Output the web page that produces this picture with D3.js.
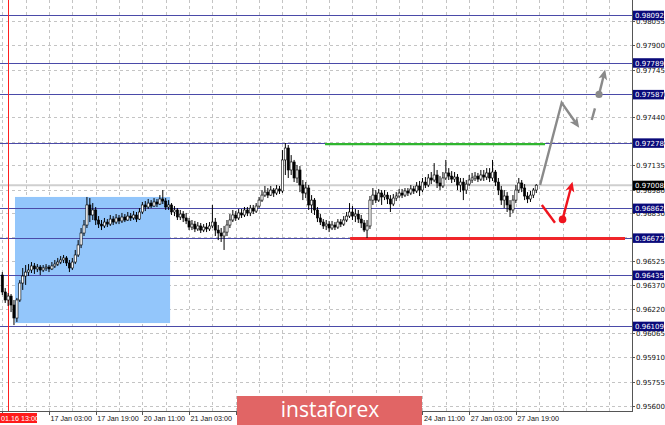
<!DOCTYPE html>
<html><head><meta charset="utf-8">
<script src="https://cdn.jsdelivr.net/npm/d3@7"></script>
<style>html,body{margin:0;padding:0;background:#fff;overflow:hidden}</style>
</head><body>
<svg id="c" width="665" height="425"></svg>
<script>
// ---- DATA (USDCHF H1, bar 0 = 16 Jan 11:00) ----
const opens = [
.96435,.96327,.96276,.96301,.96244,.96161,.96276,.96384,.96429,.96454,
.96467,.96493,.96474,.96486,.96467,.96480,.96486,.96474,.96493,.96505,
.96518,.96531,.96544,.96512,.96480,.96518,.96563,.96627,.96703,.96754,
.96882,.96818,.96850,.96786,.96760,.96748,.96773,.96760,.96792,.96773,
.96799,.96780,.96805,.96786,.96811,.96799,.96818,.96792,.96837,.96882,
.96869,.96894,.96875,.96901,.96888,.96920,.96907,.96869,.96882,.96837,
.96850,.96805,.96824,.96799,.96780,.96741,.96760,.96729,.96748,.96722,
.96741,.96729,.96748,.96773,.96722,.96703,.96684,.96709,.96754,.96786,
.96818,.96799,.96831,.96818,.96850,.96831,.96862,.96843,.96875,.96913,
.96945,.96964,.96945,.96977,.96958,.96984,.96971,.97169,.97245,.97105,
.97156,.97054,.97105,.97009,.96958,.96990,.96882,.96913,.96850,.96799,
.96773,.96748,.96760,.96735,.96754,.96741,.96773,.96760,.96786,.96811,
.96837,.96811,.96824,.96792,.96767,.96722,.96748,.96913,.96945,.96913,
.96958,.96933,.96945,.96920,.96888,.96926,.96939,.96958,.96945,.96971,
.96958,.96984,.96971,.97003,.96977,.97028,.97009,.97054,.97041,.97073,
.97022,.97003,.97054,.97086,.97066,.97047,.97060,.97009,.97028,.96977,
.97015,.97041,.97054,.97066,.97047,.97073,.97060,.97086,.97054,.97092,
.97028,.96977,.96913,.96939,.96882,.96850,.96913,.96977,.97022,.96990,
.96939,.96920,.96945,.96977];
const highs = [
.96454,.96352,.96320,.96314,.96276,.96289,.96403,.96480,.96499,.96505,
.96518,.96512,.96505,.96499,.96499,.96505,.96499,.96518,.96531,.96544,
.96556,.96563,.96556,.96531,.96544,.96595,.96658,.96735,.96786,.96933,
.96926,.96894,.96869,.96811,.96786,.96799,.96792,.96818,.96811,.96824,
.96818,.96831,.96824,.96837,.96831,.96843,.96837,.96862,.96901,.96907,
.96920,.96913,.96926,.96920,.96945,.96977,.96926,.96913,.96894,.96875,
.96862,.96850,.96843,.96831,.96799,.96786,.96780,.96773,.96767,.96760,
.96767,.96773,.96882,.96799,.96754,.96735,.96748,.96786,.96824,.96850,
.96843,.96856,.96856,.96869,.96869,.96882,.96882,.96894,.96933,.96977,
.97003,.96990,.97003,.96990,.97009,.97003,.97232,.97277,.97264,.97200,
.97169,.97137,.97130,.97041,.97028,.97009,.96945,.96926,.96869,.96824,
.96792,.96786,.96780,.96780,.96773,.96792,.96792,.96811,.96837,.96894,
.96875,.96856,.96850,.96818,.96786,.96786,.96939,.96990,.96977,.96984,
.96977,.96977,.96964,.96945,.96952,.96964,.96984,.96984,.96990,.96990,
.97009,.97003,.97028,.97035,.97054,.97060,.97079,.97092,.97149,.97105,
.97066,.97092,.97169,.97117,.97098,.97092,.97079,.97054,.97054,.97041,
.97073,.97086,.97092,.97086,.97105,.97105,.97117,.97117,.97169,.97105,
.97054,.97003,.96977,.96964,.96913,.96945,.97009,.97054,.97041,.97015,
.96964,.96971,.96990,.97015];
const lows = [
.96308,.96257,.96238,.96199,.96116,.96136,.96263,.96340,.96372,.96429,
.96448,.96442,.96454,.96435,.96454,.96461,.96454,.96467,.96480,.96493,
.96505,.96512,.96493,.96454,.96467,.96505,.96550,.96607,.96684,.96735,
.96773,.96786,.96754,.96735,.96722,.96735,.96741,.96748,.96754,.96760,
.96760,.96767,.96773,.96780,.96780,.96786,.96773,.96786,.96824,.96843,
.96856,.96862,.96869,.96869,.96882,.96888,.96850,.96850,.96818,.96811,
.96786,.96786,.96773,.96760,.96722,.96722,.96709,.96716,.96703,.96709,
.96709,.96716,.96735,.96684,.96658,.96646,.96595,.96684,.96735,.96773,
.96780,.96786,.96799,.96805,.96811,.96811,.96824,.96831,.96862,.96901,
.96933,.96926,.96939,.96933,.96945,.96952,.96958,.97073,.97054,.97073,
.97028,.97022,.96964,.96913,.96926,.96850,.96831,.96818,.96773,.96754,
.96729,.96722,.96709,.96722,.96722,.96729,.96741,.96748,.96773,.96799,
.96786,.96773,.96767,.96735,.96709,.96671,.96729,.96882,.96894,.96901,
.96882,.96913,.96888,.96837,.96875,.96907,.96926,.96926,.96933,.96939,
.96945,.96952,.96958,.96939,.96964,.96990,.96996,.97015,.97028,.96990,
.96977,.96990,.97041,.97041,.97022,.97028,.96977,.96964,.96913,.96952,
.97003,.97022,.97035,.97028,.97035,.97035,.97041,.97028,.97035,.97003,
.96945,.96882,.96862,.96837,.96805,.96831,.96894,.96958,.96964,.96913,
.96894,.96901,.96926,.96958];
const closes = [
.96327,.96276,.96301,.96244,.96161,.96276,.96384,.96429,.96454,.96467,
.96493,.96474,.96486,.96467,.96480,.96486,.96474,.96493,.96505,.96518,
.96531,.96544,.96512,.96480,.96518,.96563,.96627,.96703,.96754,.96882,
.96818,.96850,.96786,.96760,.96748,.96773,.96760,.96792,.96773,.96799,
.96780,.96805,.96786,.96811,.96799,.96818,.96792,.96837,.96882,.96869,
.96894,.96875,.96901,.96888,.96920,.96907,.96869,.96882,.96837,.96850,
.96805,.96824,.96799,.96780,.96741,.96760,.96729,.96748,.96722,.96741,
.96729,.96748,.96773,.96722,.96703,.96684,.96709,.96754,.96786,.96818,
.96799,.96831,.96818,.96850,.96831,.96862,.96843,.96875,.96913,.96945,
.96964,.96945,.96977,.96958,.96984,.96971,.97169,.97245,.97105,.97156,
.97054,.97105,.97009,.96958,.96990,.96882,.96913,.96850,.96799,.96773,
.96748,.96760,.96735,.96754,.96741,.96773,.96760,.96786,.96811,.96837,
.96811,.96824,.96792,.96767,.96722,.96748,.96913,.96945,.96913,.96958,
.96933,.96945,.96920,.96888,.96926,.96939,.96958,.96945,.96971,.96958,
.96984,.96971,.97003,.96977,.97028,.97009,.97054,.97041,.97073,.97022,
.97003,.97054,.97086,.97066,.97047,.97060,.97009,.97028,.96977,.97015,
.97041,.97054,.97066,.97047,.97073,.97060,.97086,.97054,.97092,.97028,
.96977,.96913,.96939,.96882,.96850,.96913,.96977,.97022,.96990,.96939,
.96920,.96945,.96977,.97008];

const priceTicks = [0.98055,0.97900,0.97745,0.97590,0.97440,0.97285,0.97135,0.96980,0.96830,0.96675,0.96525,0.96370,0.96220,0.96065,0.95910,0.95755,0.95600];
const levels = [0.98092,0.97789,0.97587,0.97278,0.96862,0.96672,0.96435,0.96109];
const currentPrice = 0.97008;
const timeTickBars = [16,32,48,64,80,144,160,176];
const timeTickLabels = ["17 Jan 03:00","17 Jan 19:00","20 Jan 11:00","21 Jan 03:00","21 Jan 19:00","24 Jan 11:00","27 Jan 03:00","27 Jan 19:00"];
const vlineBar = 2, vlineLabel = "01.16 13:00";
const zoneBox = {x0:4.35, x1:57.5, p0:0.96933, p1:0.96129};
const greenLine = {x0:110.6, x1:186, p:0.97270};
const redLine = {x0:119.2, x1:213.4, p:0.96668};
const grayPath = [[184.3,0.97009],[191.7,0.97534],[197.7,0.97375]];
const grayDash = [[202.0,0.97424],[203.1,0.97498]];
const grayUp = [[204.5,0.97587],[206.6,0.97745]];
const redPath = [[184.9,0.96882],[189.4,0.96769]];
const redUp = [[192.0,0.96790],[195.4,0.97030]];

// ---- LAYOUT ----
const W = 665, H = 425, plotR = 632, plotB = 411;
const x = d3.scaleLinear().domain([0, 216]).range([2.3, 2.3 + 216*2.918]);
const y = d3.scaleLinear().domain([0.95600, 0.98092]).range([406, 15.2]);
const svg = d3.select("#c");

const plot = svg.append("g");
plot.append("defs").append("clipPath").attr("id","clip").append("rect").attr("x",0).attr("y",0).attr("width",plotR).attr("height",plotB);
const g = plot.append("g").attr("clip-path","url(#clip)");

// grid
g.selectAll(".hg").data(priceTicks).join("line")
  .attr("x1",0).attr("x2",plotR).attr("y1",d=>Math.round(y(d))+0.5).attr("y2",d=>Math.round(y(d))+0.5)
  .attr("stroke","#c4c4c4").attr("stroke-width",1).attr("stroke-dasharray","3,3");
g.selectAll(".vg").data(d3.range(0, 216, 8)).join("line")
  .attr("x1",d=>Math.round(x(d))+0.5).attr("x2",d=>Math.round(x(d))+0.5).attr("y1",0).attr("y2",plotB)
  .attr("stroke","#c4c4c4").attr("stroke-width",1).attr("stroke-dasharray","3,3");

// zone rectangle
g.append("rect").attr("x",x(zoneBox.x0)).attr("y",y(zoneBox.p0))
  .attr("width",x(zoneBox.x1)-x(zoneBox.x0)).attr("height",y(zoneBox.p1)-y(zoneBox.p0))
  .attr("fill","#93c6fb");

// current price line
g.append("line").attr("x1",0).attr("x2",plotR).attr("y1",y(currentPrice)).attr("y2",y(currentPrice))
  .attr("stroke","#cfcfcf").attr("stroke-width",2);

// levels
g.selectAll(".lv").data(levels).join("line")
  .attr("x1",0).attr("x2",plotR).attr("y1",d=>Math.round(y(d))+0.5).attr("y2",d=>Math.round(y(d))+0.5)
  .attr("stroke","#4a4aa8").attr("stroke-width",1.2);

// vertical marker
g.append("line").attr("x1",Math.round(x(vlineBar))+0.5).attr("x2",Math.round(x(vlineBar))+0.5)
  .attr("y1",0).attr("y2",plotB).attr("stroke","#ff2020").attr("stroke-width",1);

// green & red lines
g.append("line").attr("x1",x(greenLine.x0)).attr("x2",x(greenLine.x1)).attr("y1",y(greenLine.p)).attr("y2",y(greenLine.p))
  .attr("stroke","#2fb52f").attr("stroke-width",2.2);
g.append("line").attr("x1",x(redLine.x0)).attr("x2",x(redLine.x1)).attr("y1",y(redLine.p)).attr("y2",y(redLine.p))
  .attr("stroke","#f0262a").attr("stroke-width",2.8);

// candles
const bars = closes.map((c,i)=>({i, o:opens[i], h:highs[i], l:lows[i], c}));
g.selectAll(".wick").data(bars).join("line")
  .attr("x1",d=>x(d.i)).attr("x2",d=>x(d.i)).attr("y1",d=>y(d.h)).attr("y2",d=>y(d.l))
  .attr("stroke","#000").attr("stroke-width",1);
g.selectAll(".body").data(bars).join("rect")
  .attr("x",d=>x(d.i)-1.1).attr("width",2.2)
  .attr("y",d=>y(Math.max(d.o,d.c)))
  .attr("height",d=>Math.max(1, Math.abs(y(d.o)-y(d.c))))
  .attr("fill",d=>d.c>=d.o?"#fff":"#000").attr("stroke","#000").attr("stroke-width",0.6);

// arrows
const line = d3.line().x(d=>x(d[0])).y(d=>y(d[1]));
function arrowHead(p, q, color, len, wid){
  const x1=x(p[0]), y1=y(p[1]), x2=x(q[0]), y2=y(q[1]);
  const a=Math.atan2(y2-y1,x2-x1);
  const bx=x2-len*Math.cos(a), by=y2-len*Math.sin(a);
  const nx=-Math.sin(a)*wid, ny=Math.cos(a)*wid;
  g.append("path").attr("d",`M${x2},${y2}L${bx+nx},${by+ny}L${bx+len*0.25*Math.cos(a)},${by+len*0.25*Math.sin(a)}L${bx-nx},${by-ny}Z`).attr("fill",color);
}
function trimmed(pts, len){
  const n=pts.length, p=pts[n-2], q=pts[n-1];
  const x1=x(p[0]), y1=y(p[1]), x2=x(q[0]), y2=y(q[1]);
  const d=Math.hypot(x2-x1,y2-y1);
  return pts.slice(0,n-1).map(v=>[x(v[0]),y(v[1])]).concat([[x2-(x2-x1)*len/d, y2-(y2-y1)*len/d]]);
}
const gray="#8a8a8a", red="#f0141e";
g.append("path").attr("d",d3.line()(trimmed(grayPath,6))).attr("fill","none").attr("stroke",gray).attr("stroke-width",2.4).attr("stroke-linejoin","miter");
arrowHead(grayPath[1],grayPath[2],gray,10,4.5);
g.append("path").attr("d",line(grayDash)).attr("fill","none").attr("stroke",gray).attr("stroke-width",2.4);
g.append("circle").attr("cx",x(grayUp[0][0])).attr("cy",y(grayUp[0][1])).attr("r",3.6).attr("fill",gray);
g.append("path").attr("d",d3.line()(trimmed(grayUp,6))).attr("fill","none").attr("stroke",gray).attr("stroke-width",2.4);
arrowHead(grayUp[0],grayUp[1],gray,10,4.5);

g.append("path").attr("d",line(redPath)).attr("fill","none").attr("stroke",red).attr("stroke-width",2.4);
g.append("circle").attr("cx",x(redUp[0][0])).attr("cy",y(redUp[0][1])).attr("r",3.8).attr("fill",red);
g.append("path").attr("d",d3.line()(trimmed(redUp,6))).attr("fill","none").attr("stroke",red).attr("stroke-width",2.4);
arrowHead(redUp[0],redUp[1],red,10,4.5);

// frame
svg.append("line").attr("x1",plotR+0.5).attr("x2",plotR+0.5).attr("y1",0).attr("y2",plotB+1).attr("stroke","#555").attr("stroke-width",1);
svg.append("line").attr("x1",0).attr("x2",plotR+1).attr("y1",plotB+0.5).attr("y2",plotB+0.5).attr("stroke","#555").attr("stroke-width",1);

// price axis
const ax = svg.append("g").attr("font-family","DejaVu Sans, Tahoma, sans-serif").attr("font-size","7px");
ax.selectAll(".pt").data(priceTicks).join("line")
  .attr("x1",plotR).attr("x2",plotR+3).attr("y1",d=>Math.round(y(d))+0.5).attr("y2",d=>Math.round(y(d))+0.5).attr("stroke","#555");
ax.selectAll(".pl").data(priceTicks).join("text")
  .attr("x",plotR+4).attr("y",d=>y(d)+3).attr("fill","#111").text(d=>d.toFixed(5));
const boxes = levels.map(v=>({v,bg:"#0a0a7a"})).concat([{v:currentPrice,bg:"#000"}]);
ax.selectAll(".lb").data(boxes).join("rect")
  .attr("x",plotR+1).attr("y",d=>y(d.v)-4.5).attr("width",31).attr("height",9.5).attr("fill",d=>d.bg);
ax.selectAll(".lt").data(boxes).join("text")
  .attr("x",plotR+3).attr("y",d=>y(d.v)+3).attr("fill","#fff").text(d=>d.v.toFixed(5));

// time axis
const tx = svg.append("g").attr("font-family","Liberation Sans, Arial, sans-serif").attr("font-size","7.2px");
tx.append("line").attr("x1",Math.round(x(0))+0.5).attr("x2",Math.round(x(0))+0.5).attr("y1",plotB).attr("y2",plotB+4).attr("stroke","#555");
tx.selectAll(".tt").data(timeTickBars).join("line")
  .attr("x1",d=>Math.round(x(d))+0.5).attr("x2",d=>Math.round(x(d))+0.5).attr("y1",plotB).attr("y2",plotB+4).attr("stroke","#555");
tx.selectAll(".tl").data(timeTickBars).join("text")
  .attr("x",d=>x(d)+1.5).attr("y",plotB+10).attr("fill","#111").text((d,i)=>timeTickLabels[i]);
tx.append("rect").attr("x",0).attr("y",plotB+2).attr("width",37).attr("height",10).attr("fill","#ff1a1a");
tx.append("text").attr("x",1).attr("y",plotB+10).attr("fill","#fff").text(vlineLabel);

// watermark
svg.append("rect").attr("x",237).attr("y",396).attr("width",185).attr("height",29).attr("fill","#e16565");
svg.append("text").attr("x",330).attr("y",417).attr("text-anchor","middle")
  .attr("font-family","Open Sans, sans-serif").attr("font-size","21px").attr("fill","#fff").text("instaforex");
</script>
</body></html>
